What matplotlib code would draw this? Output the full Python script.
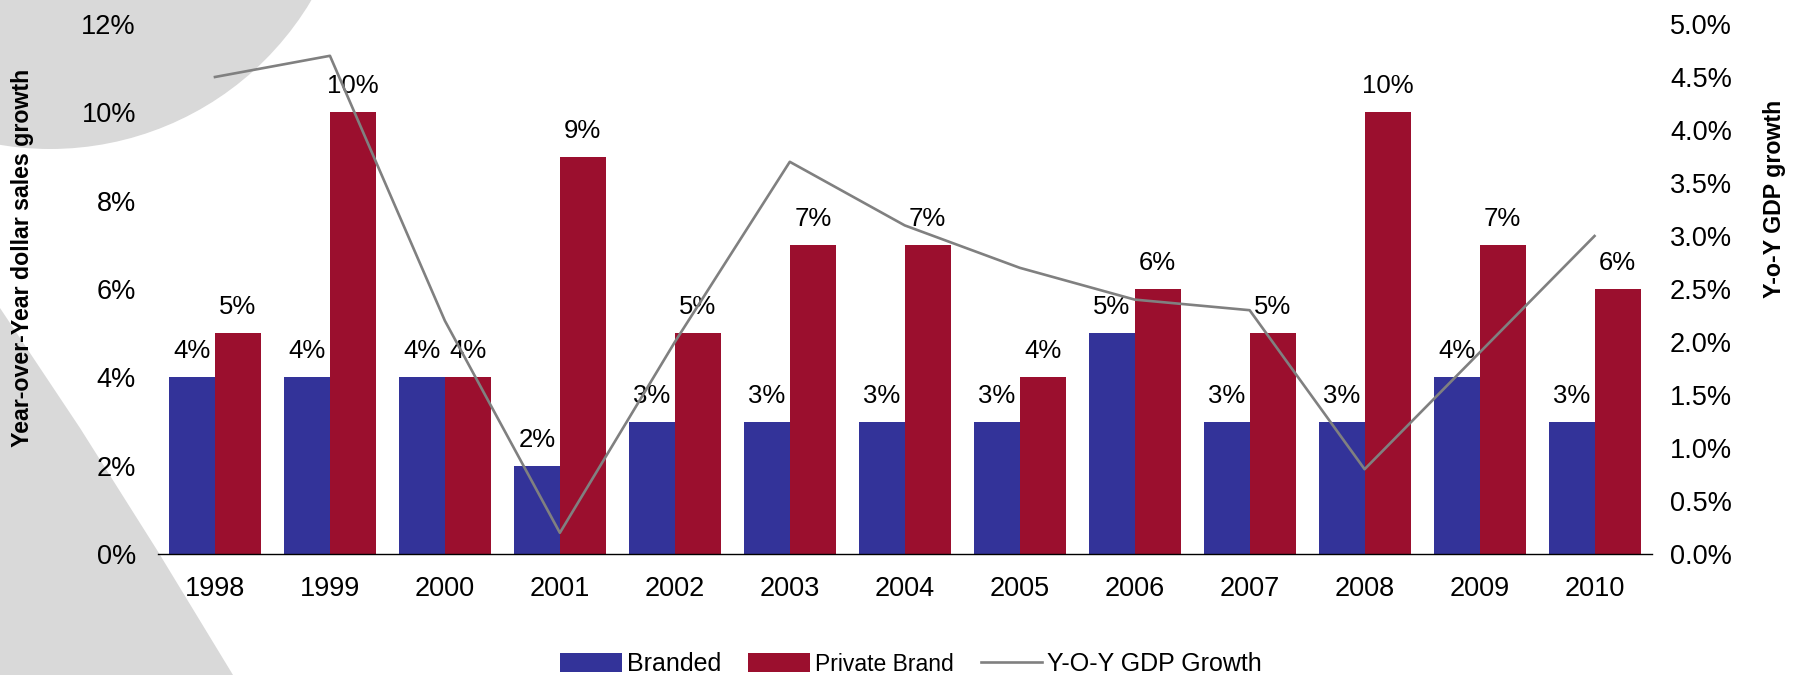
import matplotlib
matplotlib.use("Agg")
import matplotlib.pyplot as plt
from matplotlib.patches import Circle, Polygon
from matplotlib.ticker import FuncFormatter
import numpy as np

plt.rcParams["font.family"] = ["Liberation Sans", "DejaVu Sans"]

# Data
years = ["1998", "1999", "2000", "2001", "2002", "2003", "2004",
         "2005", "2006", "2007", "2008", "2009", "2010"]
branded = [4, 4, 4, 2, 3, 3, 3, 3, 5, 3, 3, 4, 3]
private_brand = [5, 10, 4, 9, 5, 7, 7, 4, 6, 5, 10, 7, 6]
gdp_growth = [4.5, 4.7, 2.2, 0.2, 2.0, 3.7, 3.1, 2.7, 2.4, 2.3, 0.8, 1.9, 3.0]

BLUE = "#333399"
RED = "#9B0F2E"
GREY_LINE = "#808080"
BG_GREY = "#d9d9d9"

W, H = 1801, 675
fig = plt.figure(figsize=(W / 100, H / 100), dpi=100)
fig.patch.set_facecolor("white")

# Decorative background shapes, laid out in pixel units
bg = fig.add_axes([0, 0, 1, 1], zorder=-5)
bg.set_xlim(0, W)
bg.set_ylim(H, 0)
bg.axis("off")
bg.add_patch(Circle((50, -155), 304, facecolor=BG_GREY, edgecolor="none"))
bg.add_patch(Polygon([(0, 308), (80, 428), (157, 550), (233, 675), (0, 675)],
                     closed=True, facecolor=BG_GREY, edgecolor="none"))

left, right = 157.5 / W, 1652 / W
bottom, top = 1 - 554 / H, 1 - 24 / H
ax = fig.add_axes([left, bottom, right - left, top - bottom])
ax.patch.set_alpha(0)

x = np.arange(len(years))
bw = 0.4
b1 = ax.bar(x - bw / 2, branded, bw, color=BLUE, label="Branded", zorder=2)
b2 = ax.bar(x + bw / 2, private_brand, bw, color=RED, label="Private Brand", zorder=2)
ax.bar_label(b1, labels=[f"{v}%" for v in branded], padding=10, fontsize=18.5)
ax.bar_label(b2, labels=[f"{v}%" for v in private_brand], padding=10, fontsize=18.5)

ax.set_xlim(-0.5, len(years) - 0.5)
ax.set_ylim(0, 12)
ax.set_yticks(np.arange(0, 13, 2))
ax.yaxis.set_major_formatter(FuncFormatter(lambda v, p: f"{v:.0f}%"))
ax.set_xticks(x)
ax.set_xticklabels(years)
ax.tick_params(axis="x", length=0, pad=16, labelsize=19.5)
ax.tick_params(axis="y", length=0, pad=15.5, labelsize=19.5)
for s in ["top", "right", "left"]:
    ax.spines[s].set_visible(False)
ax.spines["bottom"].set_color("black")
ax.spines["bottom"].set_linewidth(1.0)

ax2 = ax.twinx()
ax2.patch.set_alpha(0)
ln, = ax2.plot(x, gdp_growth, color=GREY_LINE, linewidth=1.9, label="Y-O-Y GDP Growth", zorder=3)
ax2.set_ylim(0, 5)
ax2.set_yticks(np.arange(0, 5.01, 0.5))
ax2.yaxis.set_major_formatter(FuncFormatter(lambda v, p: f"{v:.1f}%"))
ax2.tick_params(axis="y", length=0, pad=13, labelsize=19.5)
for s in ["top", "right", "left", "bottom"]:
    ax2.spines[s].set_visible(False)

fig.text(23 / W, 1 - 258 / H, "Year-over-Year dollar sales growth", rotation=90,
         ha="center", va="center", fontsize=16.7, fontweight="bold")
fig.text(1774 / W, 1 - 199 / H, "Y-o-Y GDP growth", rotation=90,
         ha="center", va="center", fontsize=16.7, fontweight="bold")

leg = fig.legend([b1, b2, ln], ["Branded", "Private Brand", "Y-O-Y GDP Growth"],
                 loc="center", bbox_to_anchor=(911 / W, 1 - 664 / H), ncol=3,
                 frameon=False, fontsize=18, handlelength=2.45, handleheight=0.76,
                 handletextpad=0.2, columnspacing=1.1, borderpad=0, borderaxespad=0)
leg.get_texts()[1].set_fontsize(16.5)

fig.savefig("out.png", dpi=100, facecolor="white")
